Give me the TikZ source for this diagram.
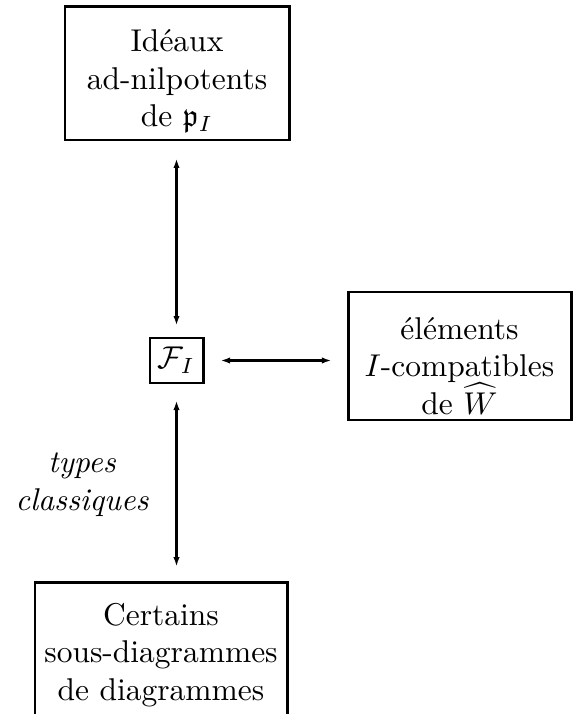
\documentclass[tikz,border=0pt]{standalone}
\usepackage{amssymb}
\usetikzlibrary{arrows.meta}
\begin{document}
\begin{tikzpicture}[x=0.3175pt,y=-0.3175pt,
  boxnode/.style={draw,line width=0.95pt,inner sep=0pt},
  txt/.style={align=center,inner sep=0pt},
  conn/.style={line width=0.7pt,{Latex[length=3pt,width=2pt]}-{Latex[length=3pt,width=2pt]}}]
\useasboundingbox (0,0) rectangle (573,714);
\clip (0,0) rectangle (573,714);
% boxes
\node[boxnode,minimum width=224*0.3175pt,minimum height=133*0.3175pt] (top) at (177,73.5) {};
\node[txt] (toptxt) at (177,81) {Idéaux\\ad-nilpotents\\de $\mathfrak{p}_I$};
\node[boxnode,minimum width=53*0.3175pt,minimum height=45*0.3175pt] (fi) at (176.5,360.5) {$\mathcal{F}_I$};
\node[boxnode,minimum width=223*0.3175pt,minimum height=128*0.3175pt] (right) at (459.5,356) {};
\node[txt] (righttxt) at (459.5,366) {éléments\\$I$-compatibles\\de $\widehat{W}$};
\node[boxnode,minimum width=252*0.3175pt,minimum height=178*0.3175pt] (bot) at (161,671) {};
\node[txt] (bottxt) at (161,655) {Certains\\sous-diagrammes\\de diagrammes};
\node[txt,font=\itshape] (lab) at (82,485) {types\\classiques};
% connectors
\draw[conn,shorten <=5.4pt,shorten >=3.5pt] (top.south -| fi) -- (fi.north);
\draw[conn,shorten <=5.1pt,shorten >=4.4pt] (fi.south) -- (bot.north -| fi);
\draw[conn,shorten <=5.1pt,shorten >=4.8pt] (fi.east) -- (right.west |- fi);
\end{tikzpicture}
\end{document}
